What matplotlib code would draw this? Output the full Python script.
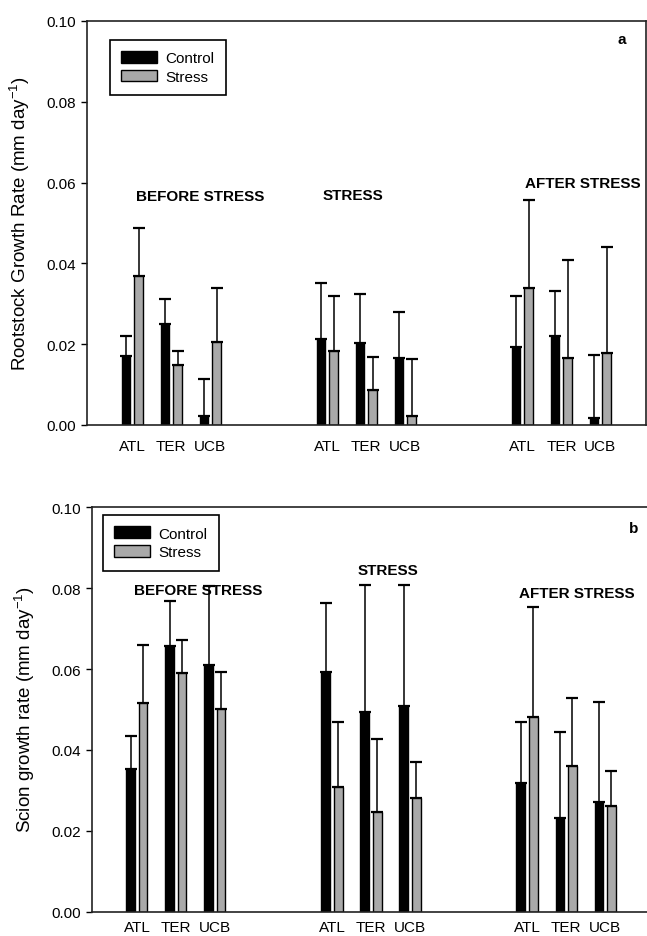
import matplotlib
matplotlib.use('Agg')
import matplotlib.pyplot as plt
import numpy as np

plt.rcParams['font.family'] = ['Liberation Sans', 'DejaVu Sans']
plt.rcParams['mathtext.fontset'] = 'custom'
plt.rcParams['mathtext.rm'] = 'Liberation Sans'
plt.rcParams['mathtext.default'] = 'regular'

# data
cultivars = ['ATL', 'TER', 'UCB']
periods = ['BEFORE STRESS', 'STRESS', 'AFTER STRESS']

# (a) rootstock, order: before ATL/TER/UCB, stress ..., after ...
root_control = [0.0170, 0.0250, 0.0021, 0.0213, 0.0204, 0.0166, 0.0194, 0.0220, 0.0018]
root_control_err = [0.0050, 0.0061, 0.0092, 0.0138, 0.0119, 0.0114, 0.0124, 0.0112, 0.0156]
root_stress = [0.0368, 0.0149, 0.0205, 0.0184, 0.0087, 0.0021, 0.0339, 0.0166, 0.0177]
root_stress_err = [0.0120, 0.0033, 0.0133, 0.0134, 0.0080, 0.0142, 0.0218, 0.0242, 0.0264]

# (b) scion
scion_control = [0.0353, 0.0656, 0.0611, 0.0592, 0.0495, 0.0508, 0.0318, 0.0232, 0.0272]
scion_control_err = [0.0082, 0.0112, 0.0195, 0.0172, 0.0314, 0.0301, 0.0150, 0.0213, 0.0247]
scion_stress = [0.0516, 0.0591, 0.0501, 0.0309, 0.0247, 0.0281, 0.0482, 0.0360, 0.0261]
scion_stress_err = [0.0144, 0.0081, 0.0092, 0.0161, 0.0180, 0.0089, 0.0271, 0.0168, 0.0087]

# bar positions: 3 cultivars per period, gap of 2 slots between periods
pos = np.array([0, 1, 2, 5, 6, 7, 10, 11, 12], dtype=float)
w = 0.22
off = 0.32

fig = plt.figure(figsize=(6.47, 9.37), dpi=100)
ax1 = fig.add_axes([0.1345, 0.5454, 0.864, 0.4312])
ax2 = fig.add_axes([0.1417, 0.0259, 0.864, 0.4316])


def draw(ax, ctrl, ctrl_err, strs, strs_err, lab_pad):
    ax.bar(pos, ctrl, w, color='black', edgecolor='black', linewidth=1, label='Control', zorder=2)
    ax.bar(pos + off, strs, w, color='#a9a9a9', edgecolor='black', linewidth=1, label='Stress', zorder=2)
    ax.errorbar(pos, ctrl, yerr=[np.zeros(9), ctrl_err], fmt='none', ecolor='black',
                elinewidth=1.1, capsize=4, capthick=1.6, zorder=1)
    ax.errorbar(pos + off, strs, yerr=[np.zeros(9), strs_err], fmt='none', ecolor='black',
                elinewidth=1.1, capsize=4, capthick=1.6, zorder=1)
    ax.set_xlim(-1.0, 13.33)
    ax.set_ylim(0, 0.10)
    ax.set_yticks(np.arange(0, 0.101, 0.02))
    ax.set_yticklabels(['%.2f' % v for v in np.arange(0, 0.101, 0.02)], fontsize=11)
    ax.set_xticks(pos + off / 2)
    ax.set_xticklabels(cultivars * 3, fontsize=11)
    ax.tick_params(axis='x', length=0, pad=lab_pad)
    ax.tick_params(axis='y', direction='out', length=4.5, width=1)
    for s in ax.spines.values():
        s.set_linewidth(1.2)
        s.set_color('#222222')


draw(ax1, root_control, root_control_err, root_stress, root_stress_err, 10)
draw(ax2, scion_control, scion_control_err, scion_stress, scion_stress_err, 6)

# period labels
ax1.text(1.9, 0.0567, periods[0], ha='center', va='center', fontsize=11, fontweight='bold')
ax1.text(5.81, 0.057, periods[1], ha='center', va='center', fontsize=11, fontweight='bold')
ax1.text(11.72, 0.0599, periods[2], ha='center', va='center', fontsize=11, fontweight='bold')
ax1.text(12.71, 0.0955, 'a', ha='center', va='center', fontsize=11, fontweight='bold')

ax2.text(1.74, 0.0796, periods[0], ha='center', va='center', fontsize=11, fontweight='bold', zorder=5)
ax2.text(6.59, 0.0846, periods[1], ha='center', va='center', fontsize=11, fontweight='bold')
ax2.text(11.44, 0.0787, periods[2], ha='center', va='center', fontsize=11, fontweight='bold')
ax2.text(12.9, 0.0949, 'b', ha='center', va='center', fontsize=11, fontweight='bold')

# legends
for ax, anchor in [(ax1, (0.041, 0.954)), (ax2, (0.0197, 0.981))]:
    leg = ax.legend(loc='upper left', bbox_to_anchor=anchor, fontsize=11, fancybox=False,
                    edgecolor='black', framealpha=1, handlelength=2.35, handleheight=0.8,
                    handletextpad=0.55, labelspacing=0.3, borderpad=0.75, borderaxespad=0)
    leg.get_frame().set_linewidth(1.2)

fig.text(0.031, 1 - 224 / 937, r'Rootstock Growth Rate (mm day$^{-1}$)', rotation=90,
         ha='center', va='center', fontsize=13.5)
fig.text(0.039, 1 - 710 / 937, r'Scion growth rate (mm day$^{-1}$)', rotation=90,
         ha='center', va='center', fontsize=13.5)

fig.savefig('out.png', dpi=100)
